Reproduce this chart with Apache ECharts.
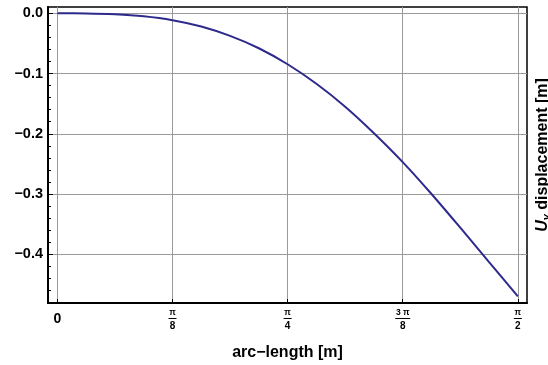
<!DOCTYPE html>
<html>
<head>
<meta charset="utf-8">
<script src="https://cdn.jsdelivr.net/npm/echarts@6/dist/echarts.min.js"></script>
<style>html,body{margin:0;padding:0;background:#fff}#c{width:548px;height:365px}</style>
</head>
<body>
<div id="c"></div>
<script>
// arc-length values (m), read at steps of pi/32
const arcLength = [0, Math.PI/32, Math.PI/16, 3*Math.PI/32, Math.PI/8, 5*Math.PI/32, 3*Math.PI/16, 7*Math.PI/32, Math.PI/4,
                   9*Math.PI/32, 5*Math.PI/16, 11*Math.PI/32, 3*Math.PI/8, 13*Math.PI/32, 7*Math.PI/16, 15*Math.PI/32, Math.PI/2];
// U_y displacement (m)
const uyDisplacement = [0, -0.0002, -0.0016, -0.005, -0.0115, -0.022, -0.0375, -0.058, -0.0846,
                        -0.117, -0.155, -0.199, -0.247, -0.300, -0.356, -0.413, -0.470];
// x tick positions and labels (numerator / denominator)
const xTickValues = [0, Math.PI/8, Math.PI/4, 3*Math.PI/8, Math.PI/2];
const xTickNum = ['0', 'π', 'π', '3 π', 'π'];
const xTickDen = ['', '8', '4', '8', '2'];
// y ticks
const yTickValues = [0, -0.1, -0.2, -0.3, -0.4];
const yTickLabels = ['0.0', '−0.1', '−0.2', '−0.3', '−0.4'];
const yMinorTicks = [0, -0.02, -0.04, -0.06, -0.08, -0.1, -0.12, -0.14, -0.16, -0.18, -0.2, -0.22, -0.24, -0.26, -0.28, -0.3, -0.32, -0.34, -0.36, -0.38, -0.4, -0.42, -0.44, -0.46, -0.48];

const FONT = '"Liberation Sans", Arial, sans-serif';
const chart = echarts.init(document.getElementById('c'), null, {renderer: 'canvas'});
const xMin = -0.032, xMax = 1.602, yMin = -0.481, yMax = 0.0105;

chart.setOption({
  animation: false,
  grid: {left: 48, top: 7, right: 21, bottom: 62, containLabel: false, outerBoundsMode: 'none',
         show: true, borderColor: '#000', borderWidth: 1.5, backgroundColor: 'transparent'},
  xAxis: {
    type: 'value', min: xMin, max: xMax,
    name: 'arc−length [m]', nameLocation: 'middle', nameGap: 42,
    nameTextStyle: {fontFamily: FONT, fontWeight: 'bold', fontSize: 16, color: '#000'},
    axisLine: {show: true, onZero: false, lineStyle: {color: '#000', width: 2}},
    axisTick: {show: true, inside: true, length: 4, customValues: xTickValues, lineStyle: {color: '#000', width: 1}},
    axisLabel: {
      show: true, customValues: xTickValues, margin: 5,
      formatter: function (v) {
        const i = Math.round(v / (Math.PI / 8));
        if (i === 0) return '{z|' + xTickNum[0] + '}';
        const bar = xTickNum[i].length > 1 ? 'barw' : 'bar';
        return '{n|' + xTickNum[i] + '}\n{' + bar + '|}\n{d|' + xTickDen[i] + '}';
      },
      rich: {
        z: {fontFamily: FONT, fontWeight: 'bold', fontSize: 14, color: '#000', lineHeight: 22},
        n: {fontFamily: FONT, fontWeight: 'bold', fontSize: 8.5, color: '#000', lineHeight: 9, align: 'center'},
        bar: {width: 8, height: 1, lineHeight: 3, backgroundColor: '#000', align: 'center'},
        barw: {width: 15, height: 1, lineHeight: 3, backgroundColor: '#000', align: 'center'},
        d: {fontFamily: FONT, fontWeight: 'bold', fontSize: 10, color: '#000', lineHeight: 12, align: 'center'}
      }
    },
    splitLine: {show: true, lineStyle: {color: '#9a9a9a', width: 1}}
  },
  yAxis: [
    {
      type: 'value', min: yMin, max: yMax, position: 'left',
      axisLine: {show: true, onZero: false, lineStyle: {color: '#000', width: 2}},
      axisTick: {show: true, inside: true, length: 5, customValues: yTickValues, lineStyle: {color: '#000', width: 1}},
      axisLabel: {
        show: true, customValues: yTickValues, margin: 5,
        formatter: function (v) {
          const i = Math.round(-v * 10);
          return yTickLabels[i];
        },
        fontFamily: FONT, fontWeight: 'bold', fontSize: 14.5, color: '#000'
      },
      splitLine: {show: true, lineStyle: {color: '#9a9a9a', width: 1}}
    },
    {
      type: 'value', min: yMin, max: yMax, position: 'left',
      axisLine: {show: false, onZero: false},
      axisTick: {show: true, inside: true, length: 3, customValues: yMinorTicks, lineStyle: {color: '#000', width: 1}},
      axisLabel: {show: false},
      splitLine: {show: false}
    },
    {
      type: 'value', min: yMin, max: yMax, position: 'right',
      name: '{u|U}{s|y}{t| displacement [m]}', nameLocation: 'middle', nameRotate: 90, nameGap: 6,
      nameTextStyle: {
        rich: {
          u: {fontFamily: FONT, fontWeight: 'bold', fontStyle: 'italic', fontSize: 16, color: '#000'},
          s: {fontFamily: FONT, fontWeight: 'bold', fontStyle: 'italic', fontSize: 11, color: '#000', verticalAlign: 'bottom', padding: [8, 0, 0, 0]},
          t: {fontFamily: FONT, fontWeight: 'bold', fontSize: 16, color: '#000'}
        }
      },
      axisLine: {show: false, onZero: false}, axisTick: {show: false}, axisLabel: {show: false}, splitLine: {show: false}
    }
  ],
  series: [{
    type: 'line',
    yAxisIndex: 0,
    data: arcLength.map((s, i) => [s, uyDisplacement[i]]),
    smooth: 0.3,
    showSymbol: false,
    lineStyle: {color: '#2e2a8c', width: 2},
    z: 5
  }]
});
</script>
</body>
</html>
